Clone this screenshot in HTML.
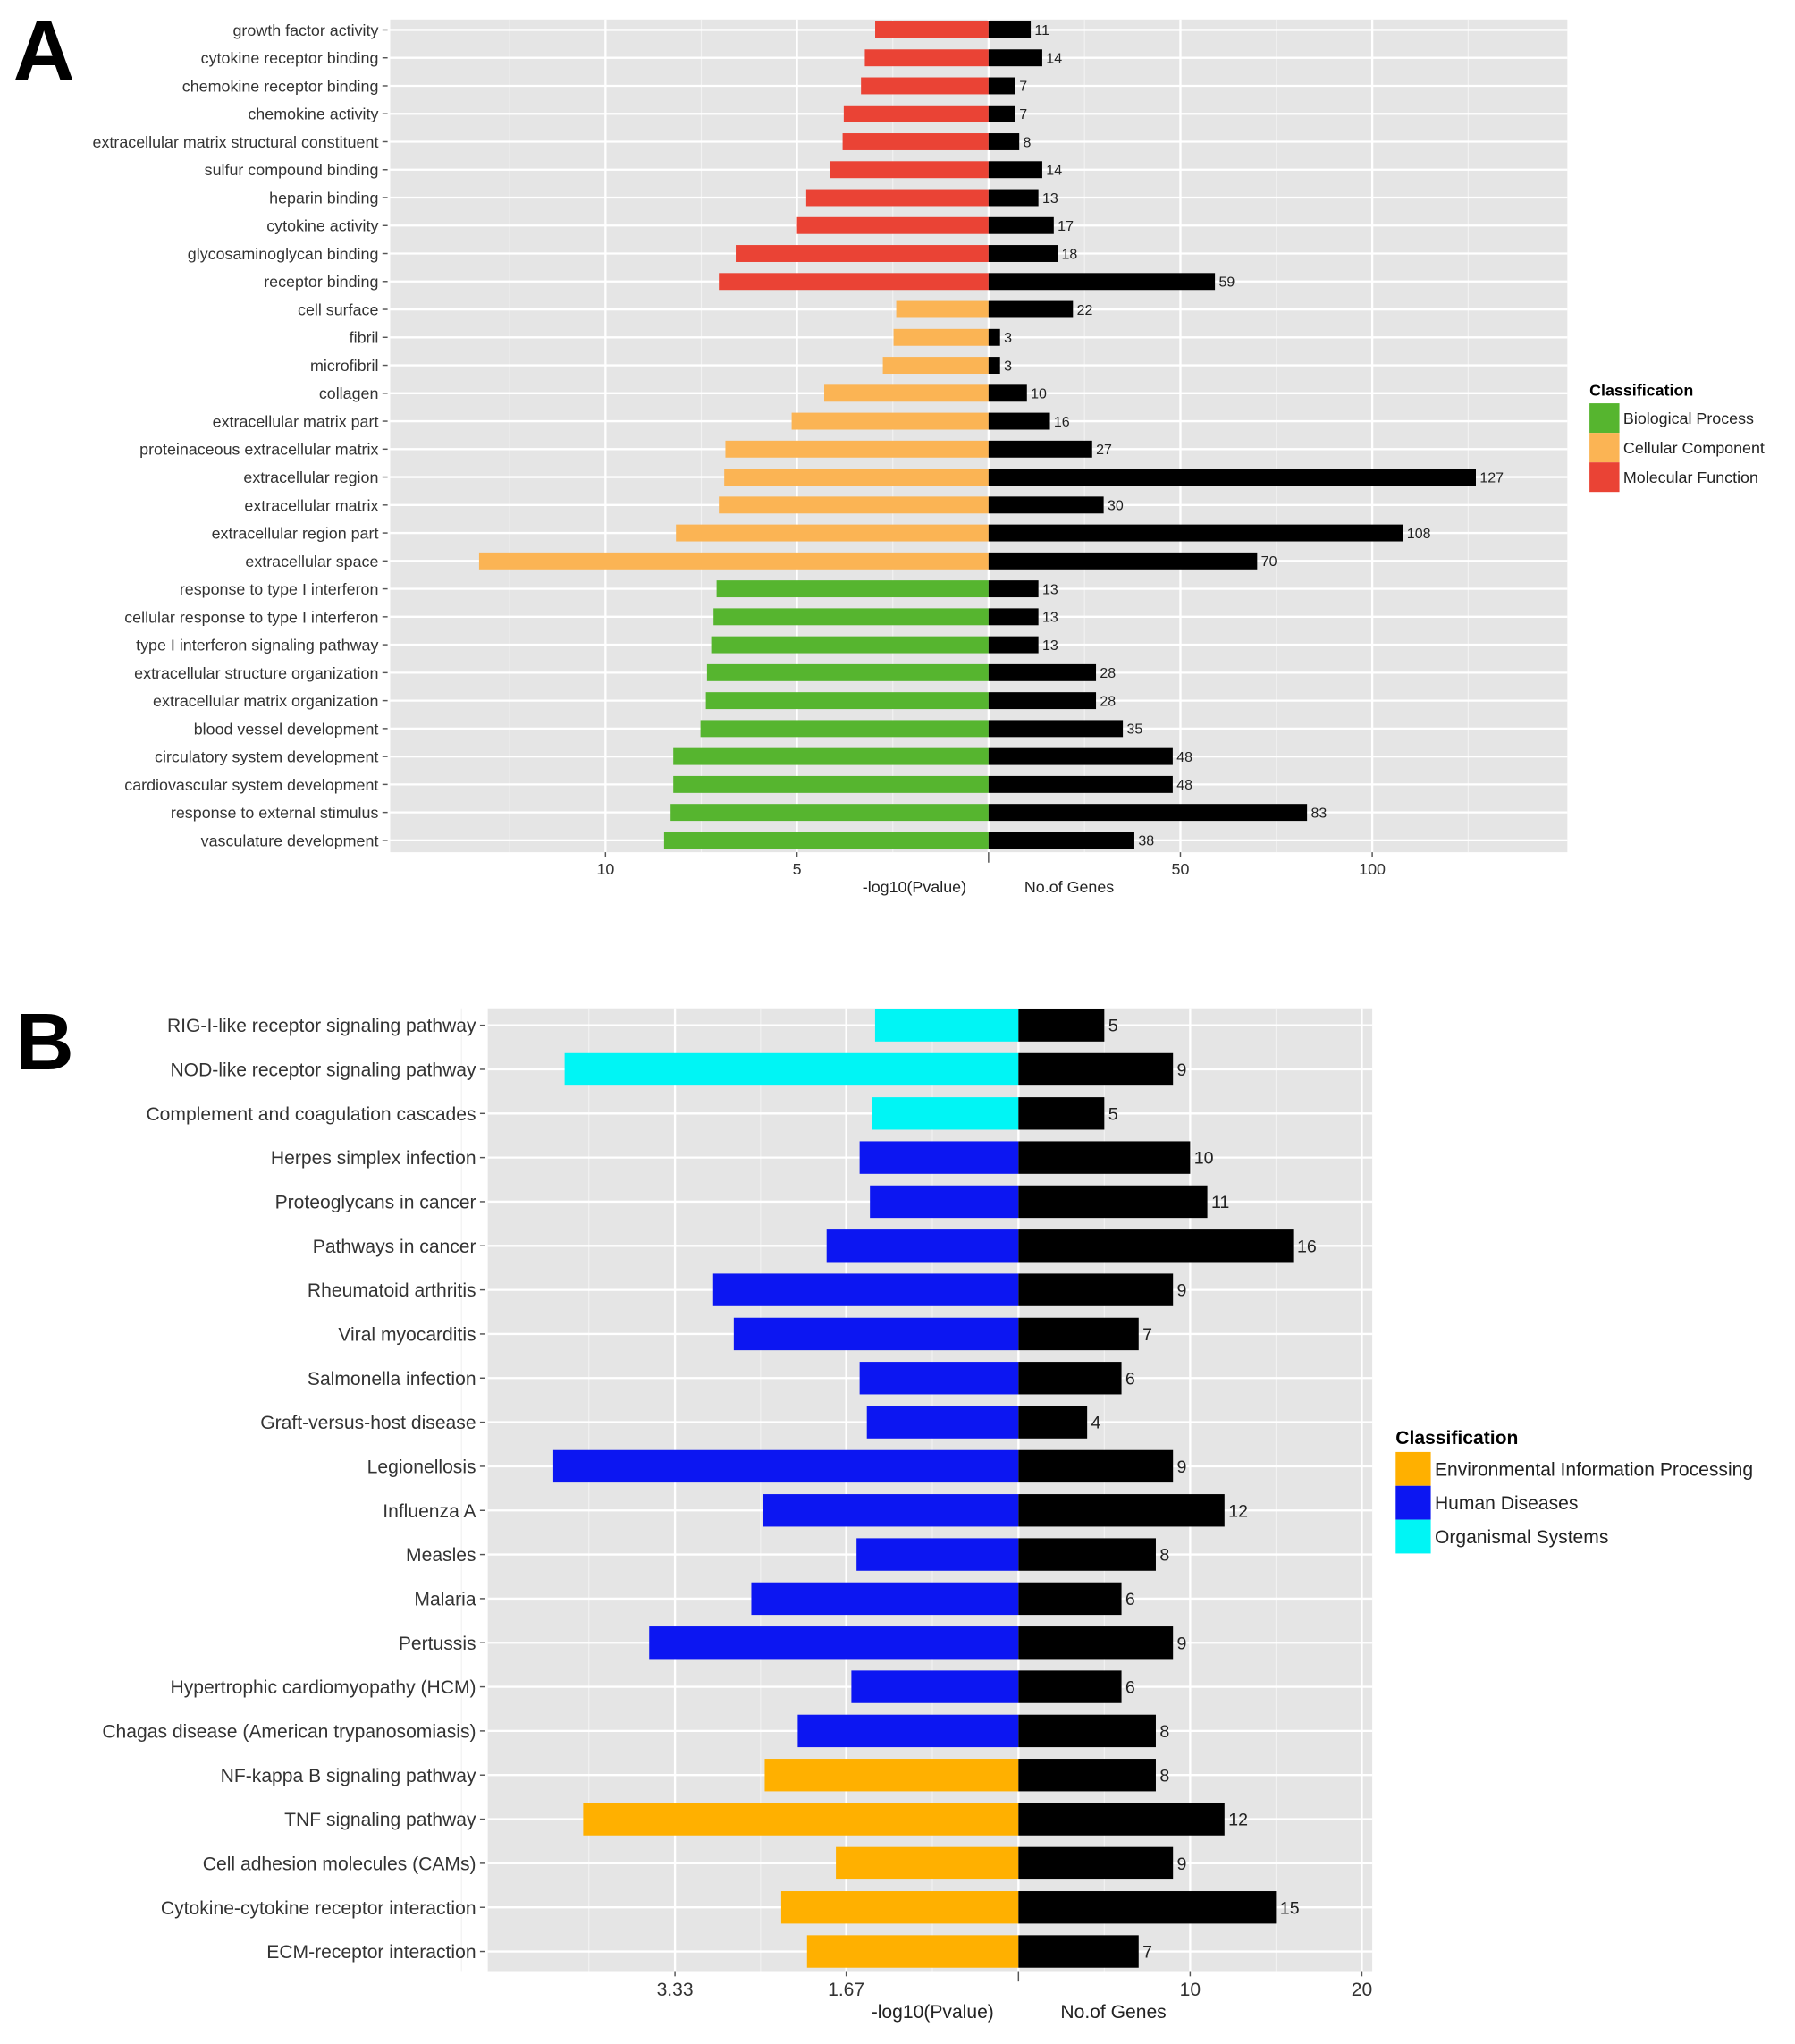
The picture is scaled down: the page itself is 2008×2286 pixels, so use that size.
<!DOCTYPE html>
<html><head><meta charset="utf-8"><style>
html,body{margin:0;padding:0;background:#fff;}
svg{display:block;font-family:"Liberation Sans",sans-serif;}
</style></head><body>
<svg id="fig" width="2008" height="2286" viewBox="0 0 1380 1571" preserveAspectRatio="none" xmlns="http://www.w3.org/2000/svg">
<text x="10" y="62" font-size="66" font-weight="bold">A</text>
<text x="12" y="822" font-size="62" font-weight="bold">B</text>
<g id="chartA"></g>
<g id="chartB"></g>
</svg>
<script>
// ---- Panel A data ----
const catsA = ["growth factor activity","cytokine receptor binding","chemokine receptor binding","chemokine activity","extracellular matrix structural constituent","sulfur compound binding","heparin binding","cytokine activity","glycosaminoglycan binding","receptor binding","cell surface","fibril","microfibril","collagen","extracellular matrix part","proteinaceous extracellular matrix","extracellular region","extracellular matrix","extracellular region part","extracellular space","response to type I interferon","cellular response to type I interferon","type I interferon signaling pathway","extracellular structure organization","extracellular matrix organization","blood vessel development","circulatory system development","cardiovascular system development","response to external stimulus","vasculature development"];
const pvalA = [2.96,3.23,3.33,3.78,3.81,4.15,4.76,5.0,6.6,7.04,2.41,2.48,2.76,4.29,5.14,6.87,6.9,7.04,8.16,13.3,7.1,7.18,7.24,7.35,7.38,7.52,8.23,8.23,8.3,8.47];
const genesA = [11,14,7,7,8,14,13,17,18,59,22,3,3,10,16,27,127,30,108,70,13,13,13,28,28,35,48,48,83,38];
const classA = ["MF","MF","MF","MF","MF","MF","MF","MF","MF","MF","CC","CC","CC","CC","CC","CC","CC","CC","CC","CC","BP","BP","BP","BP","BP","BP","BP","BP","BP","BP"];
const leftTicksA = [10,5];
const rightTicksA = [50,100];
const legendA = ["Biological Process","Cellular Component","Molecular Function"];
// ---- Panel B data ----
const catsB = ["RIG-I-like receptor signaling pathway","NOD-like receptor signaling pathway","Complement and coagulation cascades","Herpes simplex infection","Proteoglycans in cancer","Pathways in cancer","Rheumatoid arthritis","Viral myocarditis","Salmonella infection","Graft-versus-host disease","Legionellosis","Influenza A","Measles","Malaria","Pertussis","Hypertrophic cardiomyopathy (HCM)","Chagas disease (American trypanosomiasis)","NF-kappa B signaling pathway","TNF signaling pathway","Cell adhesion molecules (CAMs)","Cytokine-cytokine receptor interaction","ECM-receptor interaction"];
const pvalB = [1.39,4.40,1.42,1.54,1.44,1.86,2.96,2.76,1.54,1.47,4.51,2.48,1.57,2.59,3.58,1.62,2.14,2.46,4.22,1.77,2.30,2.05];
const genesB = [5,9,5,10,11,16,9,7,6,4,9,12,8,6,9,6,8,8,12,9,15,7];
const classB = ["OS","OS","OS","HD","HD","HD","HD","HD","HD","HD","HD","HD","HD","HD","HD","HD","HD","EIP","EIP","EIP","EIP","EIP"];
const leftTicksB = [3.33,1.67];
const rightTicksB = [10,20];
const legendB = ["Environmental Information Processing","Human Diseases","Organismal Systems"];

const NS="http://www.w3.org/2000/svg";
function mk(parent,tag,attrs,txt){const e=document.createElementNS(NS,tag);for(const k in attrs)e.setAttribute(k,attrs[k]);if(txt!==undefined)e.textContent=txt;parent.appendChild(e);return e;}

function draw(g,cfg){
  const {cats,pv,gn,cls,colors,x0,x1,y0,y1,zero,lppu,rppu,firstY,step,barH,fs,cfs,lt,rt,tickY,ltitle,rtitle,titleY,ltx,rtx,leg,legKeys,legX,legY,legKH,legKW,legFs,minorL,minorR}=cfg;
  const r=mk(g,'rect',{x:x0,y:y0,width:x1-x0,height:y1-y0,fill:'#e5e5e5'});
  
  
  const lx=v=>zero-v*lppu, rx=v=>zero+v*rppu;
  minorL.forEach(v=>mk(g,'line',{x1:lx(v),x2:lx(v),y1:y0,y2:y1,stroke:'#f2f2f2','stroke-width':0.8}));
  minorR.forEach(v=>mk(g,'line',{x1:rx(v),x2:rx(v),y1:y0,y2:y1,stroke:'#f2f2f2','stroke-width':0.8}));
  lt.forEach(v=>mk(g,'line',{x1:lx(v),x2:lx(v),y1:y0,y2:y1,stroke:'#fff','stroke-width':1.6}));
  rt.forEach(v=>mk(g,'line',{x1:rx(v),x2:rx(v),y1:y0,y2:y1,stroke:'#fff','stroke-width':1.6}));
  mk(g,'line',{x1:zero,x2:zero,y1:y0,y2:y1,stroke:'#fff','stroke-width':1.6});
  cats.forEach((c,i)=>{
    const y=firstY+i*step;
    mk(g,'line',{x1:x0,x2:x1,y1:y,y2:y,stroke:'#fff','stroke-width':1.6});
  });
  cats.forEach((c,i)=>{
    const y=firstY+i*step;
    const b=mk(g,'rect',{x:lx(pv[i]),y:y-barH/2,width:zero-lx(pv[i]),height:barH,fill:colors[cls[i]]});
    
    
    const b2=mk(g,'rect',{x:zero,y:y-barH/2,width:rx(gn[i])-zero,height:barH,fill:'#000'});
    
    
    const t=mk(g,'text',{x:rx(gn[i])+3,y:y+cfs*0.36,'font-size':cfs,fill:'#222'},String(gn[i]));
    
    
    const l=mk(g,'text',{x:x0-9,y:y+fs*0.36,'font-size':fs,'text-anchor':'end',fill:'#333'},c);
    
    
    mk(g,'line',{x1:x0-6,x2:x0-2,y1:y,y2:y,stroke:'#555','stroke-width':1});
  });
  lt.forEach(v=>{mk(g,'line',{x1:lx(v),x2:lx(v),y1:y1,y2:y1+4,stroke:'#555'});
    const t=mk(g,'text',{x:lx(v),y:tickY,'font-size':fs,'text-anchor':'middle',fill:'#333'},String(v));
    
    });
  rt.forEach(v=>{mk(g,'line',{x1:rx(v),x2:rx(v),y1:y1,y2:y1+4,stroke:'#555'});
    const t=mk(g,'text',{x:rx(v),y:tickY,'font-size':fs,'text-anchor':'middle',fill:'#333'},String(v));
    
    });
  mk(g,'line',{x1:zero,x2:zero,y1:y1,y2:y1+8,stroke:'#555'});
  const a1=mk(g,'text',{x:ltx,y:titleY,'font-size':fs,'text-anchor':'middle',fill:'#222'},ltitle);
  
  
  const a2=mk(g,'text',{x:rtx,y:titleY,'font-size':fs,'text-anchor':'middle',fill:'#222'},rtitle);
  
  
  const lt2=mk(g,'text',{x:legX,y:legY-6,'font-size':legFs,'font-weight':'bold',fill:'#000'},'Classification');
  
  
  leg.forEach((n,i)=>{
    const k=mk(g,'rect',{x:legX,y:legY+i*legKH,width:legKW,height:legKH,fill:colors[legKeys[i]]});
    
    
    const t=mk(g,'text',{x:legX+legKW+3,y:legY+i*legKH+legKH/2+legFs*0.36,'font-size':legFs,fill:'#222'},n);
    
    
  });
}
draw(document.getElementById('chartA'),{cats:catsA,pv:pvalA,gn:genesA,cls:classA,
  colors:{MF:'#ea4335',CC:'#fbb454',BP:'#56b52f'},
  x0:300,x1:1205,y0:15,y1:655,zero:760,lppu:29.45,rppu:2.95,firstY:23,step:21.48,barH:13,fs:12.3,cfs:11,
  lt:leftTicksA,rt:rightTicksA,tickY:672,ltitle:'-log10(Pvalue)',rtitle:'No.of Genes',titleY:686,ltx:703,rtx:822,
  leg:legendA,legKeys:['BP','CC','MF'],legX:1222,legY:310,legKH:22.7,legKW:23,legFs:12.3,
  minorL:[2.5,7.5,12.5],minorR:[25,75,125]});
draw(document.getElementById('chartB'),{cats:catsB,pv:pvalB,gn:genesB,cls:classB,
  colors:{EIP:'#ffb000',HD:'#0c16f2',OS:'#00f5f5'},
  x0:375,x1:1055,y0:775,y1:1515,zero:783,lppu:79.3,rppu:13.2,firstY:788,step:33.9,barH:25,fs:14.5,cfs:13.5,
  lt:leftTicksB,rt:rightTicksB,tickY:1534,ltitle:'-log10(Pvalue)',rtitle:'No.of Genes',titleY:1551,ltx:717,rtx:856,
  leg:legendB,legKeys:['EIP','HD','OS'],legX:1073,legY:1116,legKH:26,legKW:27,legFs:14.5,
  minorL:[0.835,2.5,4.165,5.4],minorR:[5,15]});
</script>
</body></html>
